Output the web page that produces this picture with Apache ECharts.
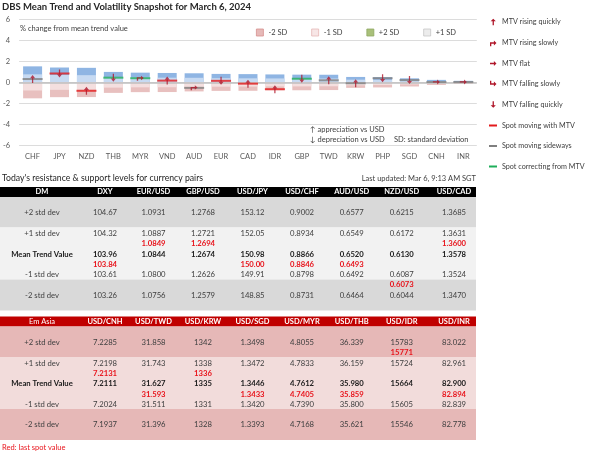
<!DOCTYPE html>
<html><head><meta charset="utf-8">
<script src="https://cdn.jsdelivr.net/npm/echarts@6/dist/echarts.min.js"></script>
<style>html,body{margin:0;padding:0;background:#fff}#c{width:605px;height:454px}</style>
</head><body><div id="c"></div>
<script>
// ---------- chart data ----------
const currencies = ['CHF','JPY','NZD','THB','MYR','VND','AUD','EUR','CAD','IDR','GBP','TWD','KRW','PHP','SGD','CNH','INR'];
const sdUp1 = [0.77,0.71,0.69,0.50,0.47,0.45,0.44,0.40,0.39,0.38,0.37,0.37,0.26,0.25,0.19,0.12,0.07];
const sdUp2 = [1.53,1.42,1.39,1.00,0.93,0.90,0.87,0.81,0.79,0.76,0.74,0.73,0.52,0.50,0.39,0.24,0.15];
const sdDn1 = [-0.77,-0.71,-0.70,-0.50,-0.47,-0.46,-0.43,-0.41,-0.40,-0.38,-0.38,-0.37,-0.28,-0.24,-0.19,-0.12,-0.07];
const sdDn2 = [-1.52,-1.41,-1.40,-1.00,-0.93,-0.92,-0.86,-0.81,-0.80,-0.75,-0.75,-0.73,-0.52,-0.48,-0.39,-0.24,-0.15];
const spotPct = [0.32,0.85,-0.80,0.45,0.40,0.17,-0.52,0.15,-0.12,-0.65,0.35,0.20,-0.08,0.40,0.22,0.04,0.04];
const spotMove = ['side','with','with','corr','corr','with','side','with','with','with','corr','side','side','side','side','side','side'];
const mtvTrend = ['rq','fq','rq','fq','rs','rq','rs','fq','rq','rq','fq','rq','rq','fq','fq','fl','fl'];
const yTicks = [-6,-4,-2,0,2,4,6];

// ---------- table data ----------
const rowLabels = ['+2 std dev','+1 std dev','Mean Trend Value','-1 std dev','-2 std dev'];
const dmHeaders = ['DM','DXY','EUR/USD','GBP/USD','USD/JPY','USD/CHF','AUD/USD','NZD/USD','USD/CAD'];
const dmPlus2 = ['104.67','1.0931','1.2768','153.12','0.9002','0.6577','0.6215','1.3685'];
const dmPlus1 = ['104.32','1.0887','1.2721','152.05','0.8934','0.6549','0.6172','1.3631'];
const dmMean = ['103.96','1.0844','1.2674','150.98','0.8866','0.6520','0.6130','1.3578'];
const dmMinus1 = ['103.61','1.0800','1.2626','149.91','0.8798','0.6492','0.6087','1.3524'];
const dmMinus2 = ['103.26','1.0756','1.2579','148.85','0.8731','0.6464','0.6044','1.3470'];
const dmSpot = ['103.84','1.0849','1.2694','150.00','0.8846','0.6493','0.6073','1.3600'];
const dmSpotSlot = ['belowMean','aboveMean','aboveMean','belowMean','belowMean','belowMean','belowMinus1','aboveMean'];

const asiaHeaders = ['Em Asia','USD/CNH','USD/TWD','USD/KRW','USD/SGD','USD/MYR','USD/THB','USD/IDR','USD/INR'];
const asiaPlus2 = ['7.2285','31.858','1342','1.3498','4.8055','36.339','15783','83.022'];
const asiaPlus1 = ['7.2198','31.743','1338','1.3472','4.7833','36.159','15724','82.961'];
const asiaMean = ['7.2111','31.627','1335','1.3446','4.7612','35.980','15664','82.900'];
const asiaMinus1 = ['7.2024','31.511','1331','1.3420','4.7390','35.800','15605','82.839'];
const asiaMinus2 = ['7.1937','31.396','1328','1.3393','4.7168','35.621','15546','82.778'];
const asiaSpot = ['7.2131','31.593','1336','1.3433','4.7405','35.859','15771','82.894'];
const asiaSpotSlot = ['aboveMean','belowMean','aboveMean','belowMean','belowMean','belowMean','belowPlus2','belowMean'];

const mtvLegend = [['rq','MTV rising quickly'],['rs','MTV rising slowly'],['fl','MTV flat'],['fs','MTV falling slowly'],['fq','MTV falling quickly']];
const spotLegend = [['with','Spot moving with MTV'],['side','Spot moving sideways'],['corr','Spot correcting from MTV']];

// ---------- styling ----------
const FONT = 'Lato, "Liberation Sans", sans-serif';
const moveColor = {with:'#e31a1c', side:'#7f7f7f', corr:'#1fae5a'};
const arrowPts = {
  rq:[[5,0],[9,4],[6,4],[6,10],[4,10],[4,4],[1,4]],
  fq:[[5,10],[9,6],[6,6],[6,0],[4,0],[4,6],[1,6]],
  fl:[[10,5],[6,1],[6,4],[0,4],[0,6],[6,6],[6,9]],
  rs:[[0,10],[2,10],[2,6],[6,6],[6,9],[10,5],[6,1],[6,4],[0,4]],
  fs:[[0,0],[2,0],[2,4],[6,4],[6,1],[10,5],[6,9],[6,6],[0,6]]
};
function toPath(pts){ return 'path://M' + pts.map(p=>p[0]+' '+p[1]).join(' L') + ' Z'; }
const arrowColor = '#b0172a';

const chart = echarts.init(document.getElementById('c'), null, {renderer:'canvas'});

const g = [];
function txt(x, y, text, o) {
  o = o || {};
  g.push({type:'text', x:x, y:y, z:10, style:{text:text, fill:o.fill||'#404040',
    font:(o.bold?'bold ':'')+(o.size||7.5)+'px '+FONT, align:o.align||'left', verticalAlign:'middle'}});
}
function rect(x, y, w, h, fill) {
  g.push({type:'rect', z:5, shape:{x:x,y:y,width:w,height:h}, style:{fill:fill}});
}

// title & annotations
txt(2, 7, 'DBS Mean Trend and Volatility Snapshot for March 6, 2024', {bold:true, size:9.5, fill:'#262626'});
txt(20, 29, '% change from mean trend value', {size:7.5, fill:'#404040'});
txt(310, 130, '↑ appreciation vs USD', {size:7.5});
txt(310, 140, '↓ depreciation vs USD', {size:7.5});
txt(394, 140, 'SD: standard deviation', {size:7.5});

// right legend
const legY = [22, 43, 63.5, 84, 104.5, 125.5, 146, 166.5];
mtvLegend.forEach((it, i) => {
  g.push({type:'polygon', z:10, shape:{points:arrowPts[it[0]].map(p=>[490+p[0]*0.65, legY[i]-3.25+p[1]*0.65])}, style:{fill:arrowColor}});
  txt(502, legY[i], it[1], {size:7.2});
});
spotLegend.forEach((it, j) => {
  const i = j + 5;
  rect(489, legY[i]-1, 8, 2, moveColor[it[0]]);
  txt(502, legY[i], it[1], {size:7.2});
});

// tables
const colX = [42, 105, 153.5, 203, 252.5, 302, 351.7, 401.7, 454];
const slotY = {belowPlus2:36, aboveMean:57, belowMean:77.8, belowMinus1:98};
function drawTable(y0, headers, cols, spots, slots, colors, headerBold) {
  rect(0, y0, 476, 10, colors[0]);
  rect(0, y0+10, 476, 30.5, colors[1]);
  rect(0, y0+40.5, 476, 52, colors[2]);
  rect(0, y0+92.5, 476, 31, colors[1]);
  headers.forEach((h, i) => txt(colX[i], y0+5, h, {fill:'#fff', bold: i>0 || headerBold, align:'center', size:7.5}));
  const rowY = [25.7, 46.8, 67.3, 88, 108.5];
  rowLabels.forEach((l, r) => txt(colX[0], y0+rowY[r], l, {align:'center', bold:r===2, size:7.7, fill:r===2?'#1a1a1a':'#404040'}));
  cols.forEach((col, r) => col.forEach((v, c) => txt(colX[c+1], y0+rowY[r], v, {align:'center', bold:r===2, size:7.7, fill:r===2?'#1a1a1a':'#404040'})));
  spots.forEach((v, c) => txt(colX[c+1], y0+slotY[slots[c]], v, {align:'center', bold:true, size:7.7, fill:'#e8141c'}));
}
txt(2, 178.5, "Today's resistance & support levels for currency pairs", {size:8.7, fill:'#262626'});
txt(476, 179, 'Last updated: Mar 6, 9:13 AM SGT', {size:7.5, align:'right'});
drawTable(187, dmHeaders, [dmPlus2, dmPlus1, dmMean, dmMinus1, dmMinus2], dmSpot, dmSpotSlot, ['#000000','#d9d9d9','#f2f2f2'], true);
drawTable(316.5, asiaHeaders, [asiaPlus2, asiaPlus1, asiaMean, asiaMinus1, asiaMinus2], asiaSpot, asiaSpotSlot, ['#c00000','#e6b8b7','#f2dcdb'], false);
txt(2, 448, 'Red: last spot value', {size:7.5, fill:'#e8141c'});

const option = {
  animation:false,
  backgroundColor:'#fff',
  textStyle:{fontFamily:FONT},
  grid:{left:17.5, right:128.2, top:19.5, bottom:308.7, containLabel:false},
  legend:{
    left:251, top:23.5, itemWidth:7, itemHeight:7, itemGap:24, icon:'rect',
    textStyle:{fontSize:7.5, color:'#404040', fontFamily:FONT},
    data:[
      {name:'-2 SD', itemStyle:{color:'#e6b9b8', borderColor:'#d7908e', borderWidth:0.8}},
      {name:'-1 SD', itemStyle:{color:'#f7e6e6', borderColor:'#e6b9b8', borderWidth:0.8}},
      {name:'+2 SD', itemStyle:{color:'#a9c07a', borderColor:'#8fa862', borderWidth:0.8}},
      {name:'+1 SD', itemStyle:{color:'#ececec', borderColor:'#c8c8c8', borderWidth:0.8}}
    ]
  },
  xAxis:{type:'category', data:currencies, position:'bottom',
    axisLine:{show:false}, axisTick:{show:false},
    axisLabel:{color:'#595959', fontSize:7.5, margin:7, fontFamily:FONT}},
  yAxis:{type:'value', min:yTicks[0], max:yTicks[yTicks.length-1], interval:2,
    axisLine:{show:false}, axisTick:{show:false},
    axisLabel:{color:'#595959', fontSize:7.5, margin:9, fontFamily:FONT},
    splitLine:{lineStyle:{color:'#dcdcdc', width:1}}},
  series:[
    {name:'+2 SD', type:'bar', data:sdUp2, barWidth:19, barGap:'-100%', itemStyle:{color:'#8fb5e3'}, z:2},
    {name:'+1 SD', type:'bar', data:sdUp1, barWidth:19, barGap:'-100%', itemStyle:{color:'#c7daf2'}, z:3},
    {name:'-2 SD', type:'bar', data:sdDn2, barWidth:19, barGap:'-100%', itemStyle:{color:'#e8c0bf'}, z:2},
    {name:'-1 SD', type:'bar', data:sdDn1, barWidth:19, barGap:'-100%', itemStyle:{color:'#f4dfdf'}, z:3,
      markLine:{silent:true, symbol:'none', label:{show:false}, lineStyle:{color:'#bfbfbf', width:1.6, type:'solid'}, data:[{yAxis:0}]}},
    {name:'spot', type:'scatter', symbol:'rect', symbolSize:[20,2], z:6,
      data:spotPct.map((v,i)=>({value:[currencies[i], v], itemStyle:{color:moveColor[spotMove[i]]}}))},
    {name:'mtv', type:'scatter', z:7,
      data:spotPct.map((v,i)=>({value:[currencies[i], v], symbol:toPath(arrowPts[mtvTrend[i]]), symbolSize: (mtvTrend[i]==='rq'||mtvTrend[i]==='fq')?[5,8]:[7,5]})),
      itemStyle:{color:arrowColor}}
  ],
  graphic:g
};
chart.setOption(option);
</script></body></html>
